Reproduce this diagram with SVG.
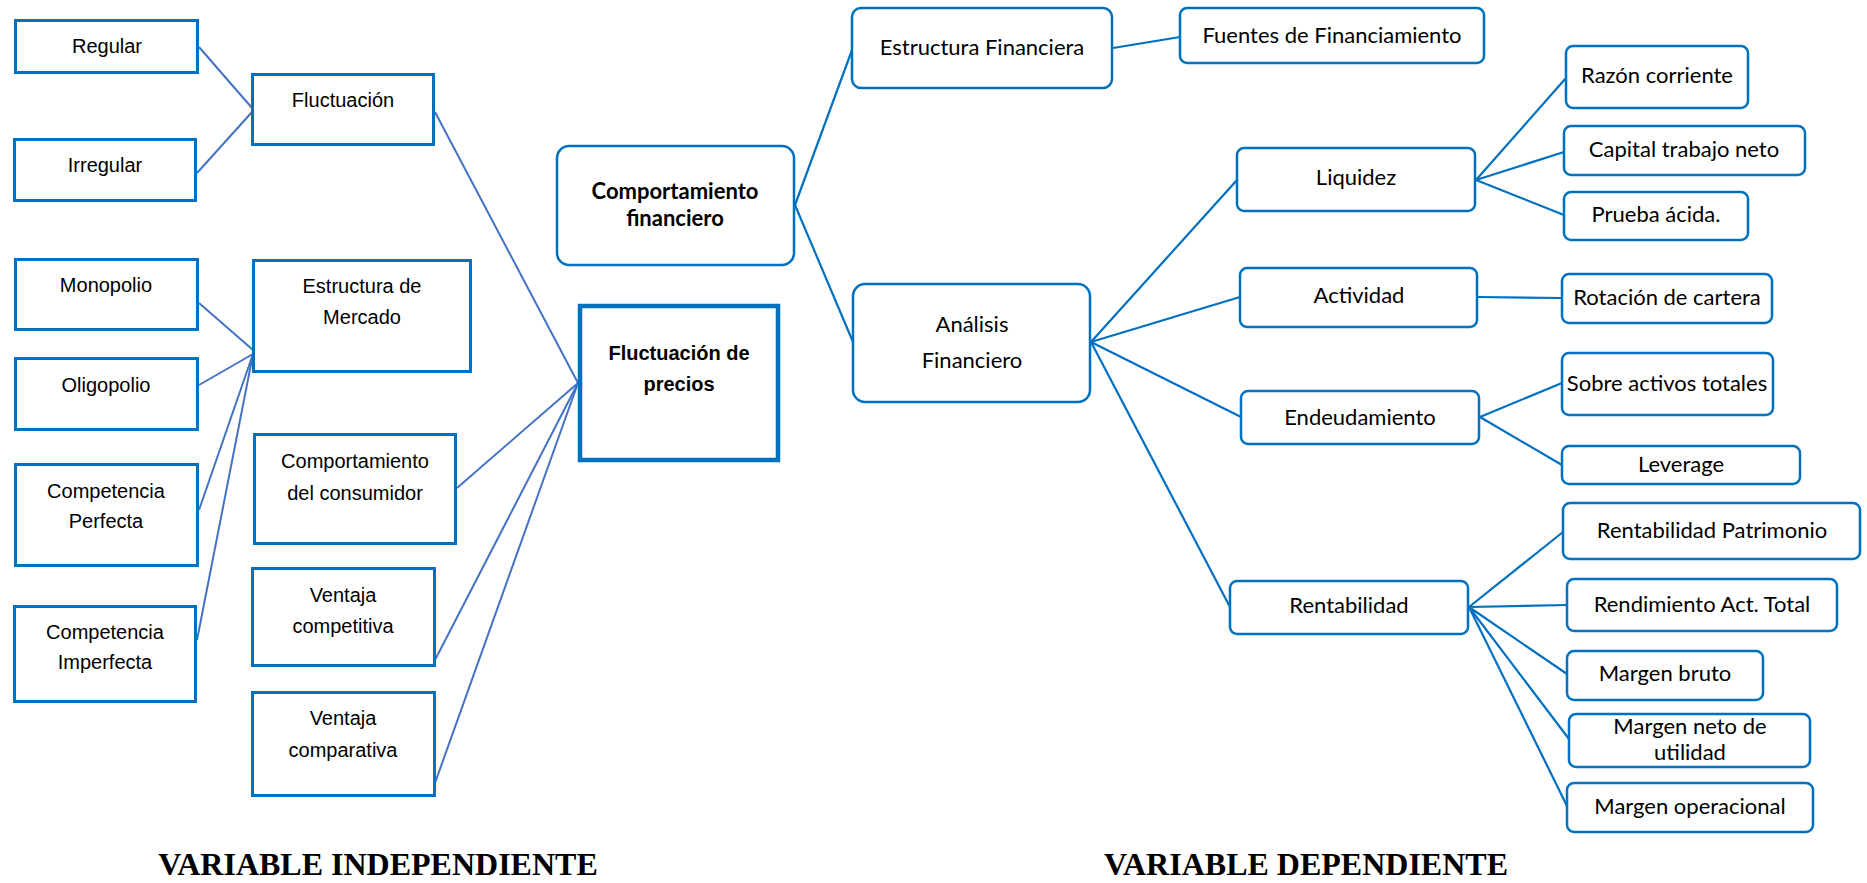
<svg xmlns="http://www.w3.org/2000/svg" width="1867" height="883" viewBox="0 0 1867 883">
<style>
.bl{fill:#fff;stroke:#0070C0;stroke-width:3}
.bp{fill:#fff;stroke:#0070C0;stroke-width:4.5}
.br{fill:#fff;stroke:#0070C0;stroke-width:2.5}
.tl{font-family:"Liberation Sans",Arial,sans-serif;font-size:20px;fill:#000;text-anchor:middle}
.tlb{font-family:"Liberation Sans",Arial,sans-serif;font-size:20px;font-weight:bold;fill:#000;text-anchor:middle}
.tr{font-family:Lato,"Noto Sans",sans-serif;font-size:22px;fill:#000;text-anchor:middle}
.trb{font-family:Lato,"Noto Sans",sans-serif;font-size:22px;font-weight:bold;fill:#000;text-anchor:middle}
.ft{font-family:"Liberation Serif","Times New Roman",serif;font-size:32px;font-weight:bold;fill:#000;text-anchor:middle}
.cl{stroke:#4472C4;stroke-width:2;fill:none}
.cr{stroke:#0070C0;stroke-width:2.2;fill:none}
</style>
<rect width="1867" height="883" fill="#fff"/>
<g id="connectors">
<g class="cl">
<line x1="199" y1="47" x2="252" y2="108"/>
<line x1="197" y1="173" x2="252" y2="112"/>
<line x1="435" y1="112" x2="578" y2="383"/>
<line x1="199" y1="303" x2="253" y2="350"/>
<line x1="199" y1="385" x2="253" y2="354"/>
<line x1="199" y1="510" x2="253" y2="354"/>
<line x1="197" y1="640" x2="253" y2="354"/>
<line x1="457" y1="488" x2="578" y2="383"/>
<line x1="435" y1="660" x2="578" y2="383"/>
<line x1="435" y1="783" x2="578" y2="383"/>
</g>
<g class="cr">
<line x1="795" y1="205" x2="852" y2="50"/>
<line x1="795" y1="205" x2="853" y2="342"/>
<line x1="1113" y1="48" x2="1180" y2="37"/>
<line x1="1091" y1="342" x2="1237" y2="180"/>
<line x1="1091" y1="342" x2="1240" y2="297"/>
<line x1="1091" y1="342" x2="1241" y2="417"/>
<line x1="1091" y1="342" x2="1230" y2="607"/>
<line x1="1476" y1="180" x2="1566" y2="78"/>
<line x1="1476" y1="180" x2="1564" y2="152"/>
<line x1="1476" y1="180" x2="1564" y2="215"/>
<line x1="1478" y1="297" x2="1562" y2="298"/>
<line x1="1480" y1="417" x2="1562" y2="383"/>
<line x1="1480" y1="417" x2="1562" y2="465"/>
<line x1="1469" y1="607" x2="1563" y2="532"/>
<line x1="1469" y1="607" x2="1567" y2="605"/>
<line x1="1469" y1="607" x2="1567" y2="674"/>
<line x1="1469" y1="607" x2="1569" y2="739"/>
<line x1="1469" y1="607" x2="1567" y2="806"/>
</g>
</g>
<g id="regular"><rect class="bl" x="15.5" y="20.5" width="182" height="52"/><text class="tl" x="107" y="53">Regular</text></g>
<g id="irregular"><rect class="bl" x="14.5" y="139.5" width="181" height="61"/><text class="tl" x="105" y="172">Irregular</text></g>
<g id="fluctuacion"><rect class="bl" x="252.5" y="74.5" width="181" height="70"/><text class="tl" x="343" y="107">Fluctuación</text></g>
<g id="monopolio"><rect class="bl" x="15.5" y="259.5" width="182" height="70"/><text class="tl" x="106" y="292">Monopolio</text></g>
<g id="oligopolio"><rect class="bl" x="15.5" y="358.5" width="182" height="71"/><text class="tl" x="106" y="392">Oligopolio</text></g>
<g id="comp-perfecta"><rect class="bl" x="15.5" y="464.5" width="182" height="101"/><text class="tl" x="106" y="498">Competencia</text><text class="tl" x="106" y="528">Perfecta</text></g>
<g id="comp-imperfecta"><rect class="bl" x="14.5" y="606.5" width="181" height="95"/><text class="tl" x="105" y="639">Competencia</text><text class="tl" x="105" y="669">Imperfecta</text></g>
<g id="estructura-mercado"><rect class="bl" x="253.5" y="260.5" width="217" height="111"/><text class="tl" x="362" y="293">Estructura de</text><text class="tl" x="362" y="324">Mercado</text></g>
<g id="comp-consumidor"><rect class="bl" x="254.5" y="434.5" width="201" height="109"/><text class="tl" x="355" y="468">Comportamiento</text><text class="tl" x="355" y="500">del consumidor</text></g>
<g id="ventaja-competitiva"><rect class="bl" x="252.5" y="568.5" width="182" height="97"/><text class="tl" x="343" y="602">Ventaja</text><text class="tl" x="343" y="633">competitiva</text></g>
<g id="ventaja-comparativa"><rect class="bl" x="252.5" y="692.5" width="182" height="103"/><text class="tl" x="343" y="725">Ventaja</text><text class="tl" x="343" y="757">comparativa</text></g>
<g id="fluctuacion-precios"><rect class="bp" x="580" y="306" width="198" height="154"/><text class="tlb" x="679" y="360">Fluctuación de</text><text class="tlb" x="679" y="391">precios</text></g>
<g id="comportamiento-financiero"><rect class="br" x="557" y="146" width="237" height="119" rx="12"/><text class="trb" x="675" y="199">Comportamiento</text><text class="trb" x="675" y="226">financiero</text></g>
<g id="estructura-financiera"><rect class="br" x="852" y="8" width="260" height="80" rx="9"/><text class="tr" x="982" y="55">Estructura Financiera</text></g>
<g id="analisis-financiero"><rect class="br" x="853" y="284" width="237" height="118" rx="12"/><text class="tr" x="972" y="332">Análisis</text><text class="tr" x="972" y="368">Financiero</text></g>
<g id="fuentes"><rect class="br" x="1180" y="8" width="304" height="55" rx="7"/><text class="tr" x="1332" y="43">Fuentes de Financiamiento</text></g>
<g id="razon-corriente"><rect class="br" x="1566" y="46" width="182" height="62" rx="7"/><text class="tr" x="1657" y="83">Razón corriente</text></g>
<g id="capital-trabajo"><rect class="br" x="1564" y="126" width="241" height="49" rx="7"/><text class="tr" x="1684" y="157">Capital trabajo neto</text></g>
<g id="prueba-acida"><rect class="br" x="1564" y="192" width="184" height="48" rx="7"/><text class="tr" x="1656" y="222">Prueba ácida.</text></g>
<g id="liquidez"><rect class="br" x="1237" y="148" width="238" height="63" rx="7"/><text class="tr" x="1356" y="185">Liquidez</text></g>
<g id="actividad"><rect class="br" x="1240" y="268" width="237" height="59" rx="7"/><text class="tr" x="1359" y="303">Actividad</text></g>
<g id="rotacion"><rect class="br" x="1562" y="274" width="210" height="49" rx="7"/><text class="tr" x="1667" y="305">Rotación de cartera</text></g>
<g id="sobre-activos"><rect class="br" x="1562" y="353" width="211" height="62" rx="7"/><text class="tr" x="1667" y="391">Sobre activos totales</text></g>
<g id="endeudamiento"><rect class="br" x="1241" y="391" width="238" height="53" rx="7"/><text class="tr" x="1360" y="425">Endeudamiento</text></g>
<g id="leverage"><rect class="br" x="1562" y="446" width="238" height="38" rx="7"/><text class="tr" x="1681" y="472">Leverage</text></g>
<g id="rent-patrimonio"><rect class="br" x="1563" y="503" width="297" height="56" rx="7"/><text class="tr" x="1712" y="538">Rentabilidad Patrimonio</text></g>
<g id="rendimiento"><rect class="br" x="1567" y="579" width="270" height="52" rx="7"/><text class="tr" x="1702" y="612">Rendimiento Act. Total</text></g>
<g id="rentabilidad"><rect class="br" x="1230" y="581" width="238" height="53" rx="7"/><text class="tr" x="1349" y="613">Rentabilidad</text></g>
<g id="margen-bruto"><rect class="br" x="1567" y="651" width="196" height="49" rx="7"/><text class="tr" x="1665" y="681">Margen bruto</text></g>
<g id="margen-neto"><rect class="br" x="1569" y="714" width="241" height="53" rx="7"/><text class="tr" x="1690" y="734">Margen neto de</text><text class="tr" x="1690" y="760">utilidad</text></g>
<g id="margen-operacional"><rect class="br" x="1567" y="783" width="246" height="49" rx="7"/><text class="tr" x="1690" y="814">Margen operacional</text></g>
<g id="titles"><text class="ft" x="378" y="875">VARIABLE INDEPENDIENTE</text><text class="ft" x="1306" y="875">VARIABLE DEPENDIENTE</text></g>
</svg>
